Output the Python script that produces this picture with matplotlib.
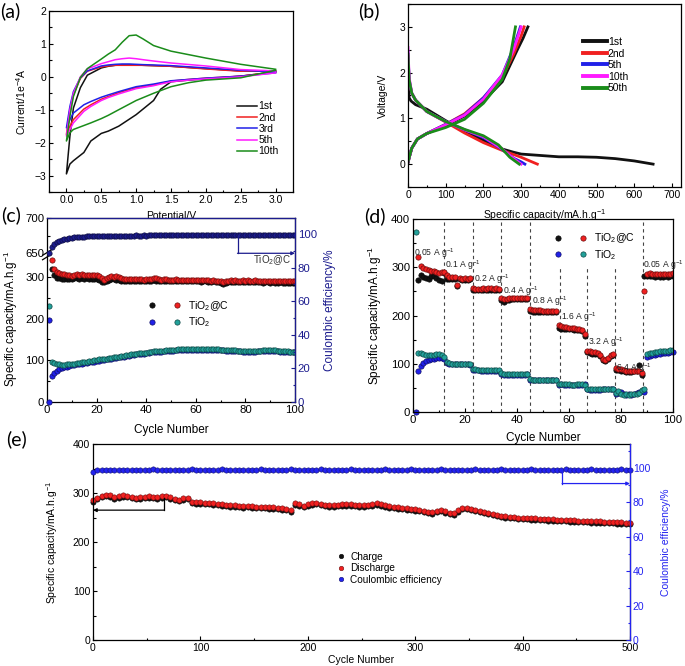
import numpy as np
import matplotlib
matplotlib.use('Agg')
import matplotlib.pyplot as plt
from matplotlib.lines import Line2D
from matplotlib.legend_handler import HandlerTuple
from matplotlib.ticker import MultipleLocator, FixedLocator

nan = np.nan

# ---------------- (a) CV data ----------------
cv_labels = ['1st', '2nd', '3rd', '5th', '10th']
pot_down = [3.0, 2.5, 2.0, 1.75, 1.5, 1.35, 1.25, 1.0, 0.75, 0.6, 0.5, 0.35, 0.25, 0.1, 0.05, 0.0]
pot_up = [0.0, 0.05, 0.1, 0.2, 0.3, 0.5, 0.6, 0.7, 0.8, 0.9, 1.0, 1.1, 1.25, 1.5, 2.0, 2.5, 3.0]
cur_down_1 = [0.15, 0.02, -0.06, -0.1, -0.15, -0.38, -0.72, -1.15, -1.5, -1.65, -1.72, -1.95, -2.3, -2.55, -2.65, -2.95]
cur_down_2 = [0.15, 0.02, -0.04, -0.08, -0.13, -0.2, -0.25, -0.33, -0.48, -0.6, -0.68, -0.85, -0.98, -1.3, -1.5, -1.75]
cur_down_3 = [0.12, 0.02, -0.04, -0.08, -0.12, -0.18, -0.22, -0.3, -0.45, -0.55, -0.62, -0.75, -0.85, -1.1, -1.3, -1.55]
cur_down_5 = [0.12, 0.0, -0.06, -0.1, -0.15, -0.22, -0.27, -0.36, -0.52, -0.63, -0.72, -0.9, -1.05, -1.4, -1.6, -1.8]
cur_down_10 = [0.2, -0.03, -0.1, -0.18, -0.3, -0.42, -0.5, -0.72, -1.0, -1.17, -1.27, -1.4, -1.48, -1.6, -1.7, -1.95]
cur_up_1 = [-2.95, -1.8, -0.95, -0.33, 0.05, 0.27, 0.32, 0.35, 0.36, 0.36, 0.36, 0.35, 0.34, 0.32, 0.25, 0.18, 0.18]
cur_up_2 = [-1.75, -1.0, -0.55, -0.05, 0.17, 0.3, 0.33, 0.35, 0.35, 0.35, 0.35, 0.35, 0.34, 0.32, 0.24, 0.17, 0.18]
cur_up_3 = [-1.55, -0.9, -0.45, -0.03, 0.18, 0.33, 0.36, 0.38, 0.39, 0.39, 0.38, 0.37, 0.36, 0.34, 0.27, 0.2, 0.15]
cur_up_5 = [-1.8, -1.0, -0.5, 0.0, 0.24, 0.4, 0.46, 0.52, 0.55, 0.57, 0.55, 0.52, 0.48, 0.42, 0.33, 0.22, 0.18]
cur_up_10 = [-1.95, -1.2, -0.6, -0.02, 0.25, 0.54, 0.69, 0.82, 1.05, 1.25, 1.27, 1.15, 0.95, 0.78, 0.57, 0.38, 0.23]

# ---------------- (b) charge/discharge ----------------
gcd_labels = ['1st', '2nd', '5th', '10th', '50th']
dis_cap_1 = [0, 1, 3, 8, 20, 50, 100, 150, 200, 250, 280, 300, 350, 400, 450, 500, 550, 600, 650]
dis_v_1 = [2.0, 1.7, 1.45, 1.38, 1.3, 1.2, 0.95, 0.72, 0.52, 0.33, 0.26, 0.22, 0.19, 0.16, 0.16, 0.15, 0.12, 0.07, 0.0]
chg_cap_1 = [0, 5, 10, 25, 50, 100, 150, 200, 250, 270, 290, 305, 318]
chg_v_1 = [0.02, 0.2, 0.35, 0.55, 0.67, 0.85, 1.05, 1.38, 1.8, 2.15, 2.5, 2.75, 3.0]
dis_cap_2 = [0, 3, 10, 20, 50, 100, 150, 200, 250, 300, 320, 343]
dis_v_2 = [2.35, 1.8, 1.55, 1.4, 1.15, 0.92, 0.68, 0.47, 0.3, 0.15, 0.08, 0.0]
chg_cap_2 = [0, 10, 25, 50, 100, 150, 200, 250, 280, 300, 308]
chg_v_2 = [0.05, 0.35, 0.55, 0.67, 0.87, 1.1, 1.45, 1.9, 2.4, 2.8, 3.0]
dis_cap_5 = [0, 3, 10, 20, 50, 100, 150, 200, 250, 280, 300, 310]
dis_v_5 = [2.45, 1.85, 1.55, 1.4, 1.15, 0.93, 0.75, 0.58, 0.32, 0.13, 0.05, 0.0]
chg_cap_5 = [0, 10, 25, 50, 100, 150, 200, 250, 280, 298]
chg_v_5 = [0.05, 0.35, 0.55, 0.67, 0.87, 1.08, 1.45, 1.95, 2.55, 3.0]
dis_cap_10 = [0, 3, 10, 20, 50, 100, 150, 200, 250, 280, 300]
dis_v_10 = [2.55, 1.9, 1.55, 1.4, 1.15, 0.93, 0.75, 0.6, 0.33, 0.12, 0.0]
chg_cap_10 = [0, 10, 25, 50, 100, 150, 200, 250, 280, 300]
chg_v_10 = [0.05, 0.35, 0.55, 0.67, 0.86, 1.07, 1.42, 1.95, 2.5, 3.0]
dis_cap_50 = [0, 3, 10, 20, 50, 100, 150, 200, 240, 270, 295]
dis_v_50 = [2.4, 1.85, 1.55, 1.4, 1.15, 0.93, 0.76, 0.62, 0.42, 0.15, 0.0]
chg_cap_50 = [0, 10, 25, 50, 100, 150, 200, 250, 270, 285]
chg_v_50 = [0.05, 0.35, 0.55, 0.67, 0.8, 0.98, 1.33, 1.85, 2.3, 3.0]

# ---------------- (c) cycling 100 ----------------
c_cycles = list(range(1, 101))
c_tio2c_charge = [
    nan, 318, 305, 298, 296, 295, 295, 294, 294, 294,
    296, 296, 295, 296, 295, 296, 295, 294, 295, 294,
    293, 288, 287, 290, 293, 294, 294, 293, 292, 291,
    291, 290, 291, 290, 290, 291, 290, 290, 289, 290,
    290, 291, 292, 290, 290, 289, 290, 290, 289, 290,
    289, 290, 289, 289, 290, 289, 289, 290, 289, 289,
    289, 288, 289, 289, 288, 288, 289, 288, 287, 286,
    284, 286, 287, 288, 287, 288, 288, 287, 288, 287,
    288, 287, 287, 288, 287, 287, 286, 287, 287, 286,
    287, 286, 286, 287, 286, 286, 285, 286, 285, 285]
c_tio2c_discharge = [
    nan, 340, 318, 312, 309, 307, 306, 305, 304, 303,
    305, 306, 305, 306, 305, 304, 305, 304, 305, 304,
    303, 296, 293, 296, 300, 301, 300, 301, 299, 296,
    295, 294, 295, 294, 294, 295, 294, 294, 293, 294,
    294, 295, 297, 296, 294, 293, 294, 294, 293, 293,
    293, 294, 293, 292, 293, 293, 292, 293, 292, 292,
    292, 292, 293, 292, 292, 291, 292, 291, 291, 290,
    288, 290, 291, 292, 291, 292, 291, 291, 292, 291,
    292, 291, 291, 292, 291, 291, 290, 291, 291, 290,
    291, 290, 290, 291, 290, 290, 289, 290, 289, 289]
c_tio2_charge = [
    197, 63, 70, 75, 78, 81, 83, 85, 87, 88,
    89, 90, 91, 92, 93, 94, 95, 96, 97, 98,
    99, 100, 101, 102, 103, 104, 105, 106, 107, 108,
    109, 110, 111, 112, 113, 114, 115, 116, 116, 117,
    118, 119, 120, 120, 121, 121, 122, 122, 123, 123,
    123, 124, 124, 124, 124, 125, 125, 125, 125, 125,
    125, 125, 125, 125, 125, 125, 125, 125, 124, 124,
    124, 123, 123, 123, 122, 122, 122, 122, 121, 121,
    121, 121, 121, 121, 122, 122, 122, 122, 123, 123,
    123, 122, 122, 121, 121, 120, 120, 120, 119, 119]
c_tio2_discharge = [
    229, 97, 93, 91, 90, 89, 89, 90, 90, 91,
    92, 93, 94, 95, 96, 97, 98, 99, 100, 101,
    102, 102, 103, 104, 105, 106, 107, 108, 109, 110,
    111, 112, 113, 114, 115, 116, 117, 117, 118, 118,
    119, 121, 122, 122, 123, 123, 123, 124, 124, 125,
    125, 125, 126, 126, 126, 126, 126, 126, 126, 126,
    126, 126, 126, 126, 126, 126, 126, 127, 126, 125,
    125, 125, 125, 124, 124, 124, 123, 123, 123, 123,
    123, 122, 122, 123, 123, 123, 124, 124, 124, 124,
    124, 124, 123, 123, 123, 122, 122, 121, 121, 120]
c_tio2c_ce = [
    88.5, 92.0, 94.0, 95.2, 96.0, 96.6, 97.0, 97.3, 97.6, 97.8,
    98.0, 98.1, 98.2, 98.3, 98.4, 98.5, 98.5, 98.6, 98.6, 98.7,
    98.7, 98.8, 98.8, 98.7, 98.8, 98.9, 98.8, 98.9, 98.9, 99.0,
    98.9, 99.0, 99.0, 98.9, 99.0, 99.1, 99.0, 99.0, 99.1, 99.0,
    99.1, 99.2, 99.1, 99.3, 99.1, 99.1, 99.2, 99.1, 99.2, 99.2,
    99.1, 99.2, 99.2, 99.3, 99.2, 99.2, 99.3, 99.2, 99.2, 99.3,
    99.2, 99.3, 99.3, 99.2, 99.4, 99.3, 99.3, 99.4, 99.3, 99.3,
    99.4, 99.3, 99.4, 99.4, 99.3, 99.4, 99.4, 99.3, 99.4, 99.4,
    99.4, 99.5, 99.4, 99.4, 99.5, 99.4, 99.5, 99.5, 99.4, 99.5,
    99.5, 99.4, 99.5, 99.5, 99.5, 99.6, 99.5, 99.5, 99.6, 99.6]
c_tio2_ce_cycles = [0.7]
c_tio2_ce = [0.0]
# broken left axis: shown labels and their positions on the compressed scale
c_left_ticks = [0, 100, 200, 300, 357, 441]
c_left_labels = ['0', '100', '200', '300', '650', '700']

# ---------------- (d) rate ----------------
d_cycles = list(range(1, 101))
d_tio2c_discharge = [
    nan, 321, 303, 298, 296, 294, 293, 292, 290, 289,
    290, 291, 283, 280, 279, 279, 263, 278, 276, 277,
    276, 277, 257, 255, 255, 255, 256, 255, 256, 256,
    255, 256, 255, 236, 235, 235, 236, 236, 236, 237,
    237, 236, 236, 236, 214, 212, 211, 211, 211, 210,
    210, 210, 210, 209, 209, 181, 178, 177, 176, 175,
    175, 174, 173, 172, 170, 162, 127, 126, 125, 124,
    123, 118, 110, 107, 112, 118, 121, 91, 90, 89,
    87, 86, 85, 85, 86, 85, 86, 80, 250, 286,
    288, 287, 286, 286, 285, 286, 285, 286, 287, 288]
d_tio2c_charge = [
    nan, 274, 284, 280, 278, 276, 281, 282, 278, 274,
    271, 288, 276, 275, 276, 276, 262, 275, 274, 274,
    273, 275, 252, 252, 253, 252, 252, 253, 252, 253,
    253, 253, 252, 233, 229, 233, 233, 234, 234, 234,
    234, 234, 234, 234, 210, 207, 208, 208, 208, 208,
    208, 208, 208, 207, 207, 175, 172, 172, 171, 171,
    171, 170, 170, 169, 168, 158, 125, 122, 121, 121,
    120, 116, 108, 106, 110, 116, 119, 88, 87, 86,
    84, 83, 83, 83, 84, 84, 97, 77, 282, 281,
    282, 281, 280, 281, 280, 280, 281, 280, 281, 282]
d_tio2_charge = [
    0, 85, 95, 101, 105, 107, 109, 110, 111, 112,
    111, 110, 101, 100, 99, 99, 99, 99, 99, 99,
    99, 98, 88, 87, 87, 86, 86, 86, 86, 86,
    85, 85, 85, 78, 77, 77, 77, 77, 77, 77,
    77, 77, 77, 78, 67, 66, 66, 66, 66, 66,
    66, 66, 66, 66, 67, 56, 57, 56, 56, 56,
    55, 55, 56, 56, 56, 57, 47, 46, 46, 46,
    46, 46, 47, 47, 47, 47, 47, 37, 40, 42,
    38, 35, 37, 36, 38, 40, 42, 43, 42, 113,
    116, 118, 119, 120, 121, 122, 123, 123, 124, 125]
d_tio2_discharge = [
    374, 123, 122, 121, 119, 118, 118, 119, 120, 120,
    118, 113, 103, 101, 100, 100, 100, 100, 100, 100,
    100, 99, 90, 89, 88, 88, 88, 87, 87, 87,
    87, 87, 87, 80, 78, 78, 78, 78, 78, 78,
    78, 78, 78, 78, 68, 67, 67, 67, 67, 67,
    67, 67, 67, 67, 67, 58, 57, 57, 57, 57,
    56, 56, 57, 57, 57, 56, 48, 47, 47, 47,
    47, 47, 47, 48, 48, 47, 47, 40, 43, 38,
    36, 38, 36, 37, 38, 37, 40, 45, 47, 120,
    122, 123, 124, 125, 126, 126, 127, 127, 128, 128]
rate_bounds = [12, 23, 34, 45, 56.5, 67, 77.5, 88.5]
rate_bound_tops = [400, 400, 400, 400, 298, 298, 298, 400]
rate_texts = ['0.05 A g$^{-1}$', '0.1 A g$^{-1}$', '0.2 A g$^{-1}$', '0.4 A g$^{-1}$',
              '0.8 A g$^{-1}$', '1.6 A g$^{-1}$', '3.2 A g$^{-1}$', '6.4 A g$^{-1}$', '0.05 A g$^{-1}$']
rate_text_x = [0.3, 12.5, 23.6, 34.5, 45.8, 57, 67.3, 78, 88.4]
rate_text_y = [330, 305, 276, 251, 229, 197, 145, 90, 305]

# ---------------- (e) long cycling ----------------
e_cycles = list(range(0, 501, 4))
e_discharge = [
    286, 290, 294, 296, 295, 291, 293, 295, 294, 292,
    290, 291, 292, 293, 292, 291, 293, 294, 291, 288,
    286, 289, 290, 282, 281, 281, 280, 280, 279, 278,
    277, 276, 275, 275, 274, 273, 274, 273, 272, 272,
    272, 271, 271, 270, 269, 268, 265, 279, 277, 274,
    277, 279, 280, 278, 276, 275, 275, 276, 277, 277,
    277, 276, 275, 275, 276, 277, 279, 277, 275, 273,
    272, 271, 270, 269, 268, 267, 266, 264, 262, 261,
    264, 266, 263, 260, 259, 265, 270, 270, 268, 266,
    264, 262, 260, 258, 256, 254, 253, 252, 251, 250,
    249, 249, 248, 248, 247, 247, 246, 246, 245, 245,
    245, 244, 244, 243, 243, 243, 242, 242, 242, 241,
    241, 241, 240, 240, 239, 239]
e_charge = [
    281, 287, 291, 293, 292, 288, 290, 292, 291, 289,
    287, 288, 289, 290, 289, 288, 290, 291, 288, 285,
    283, 286, 287, 279, 278, 278, 277, 277, 276, 275,
    274, 273, 272, 272, 271, 270, 271, 270, 269, 269,
    269, 268, 268, 267, 266, 265, 262, 276, 274, 271,
    274, 276, 277, 275, 273, 272, 272, 273, 274, 274,
    274, 273, 272, 272, 273, 274, 276, 274, 272, 270,
    269, 268, 267, 266, 265, 264, 263, 261, 259, 258,
    261, 263, 260, 257, 256, 262, 267, 267, 265, 263,
    261, 259, 257, 255, 253, 251, 250, 249, 248, 247,
    246, 246, 245, 245, 244, 244, 243, 243, 242, 242,
    242, 241, 241, 240, 240, 240, 239, 239, 239, 238,
    238, 238, 237, 237, 236, 236]
e_ce = [
    97.8, 98.6, 98.9, 99.0, 98.9, 99.1, 99.0, 98.8, 99.0, 99.1,
    99.0, 98.9, 99.1, 99.0, 99.2, 99.0, 98.9, 99.1, 99.0, 99.0,
    99.1, 98.9, 99.0, 99.2, 99.0, 99.1, 98.9, 99.0, 99.1, 99.0,
    99.2, 99.0, 98.9, 99.1, 99.0, 99.1, 99.0, 98.9, 99.1, 99.2,
    99.0, 99.1, 99.0, 98.9, 99.1, 99.0, 99.2, 99.1, 99.0, 98.9,
    99.1, 99.0, 99.1, 99.2, 99.0, 99.1, 98.9, 99.0, 99.1, 99.0,
    99.2, 99.1, 99.0, 98.9, 99.1, 99.0, 99.1, 99.0, 99.2, 99.0,
    98.9, 99.1, 99.0, 99.1, 99.2, 99.0, 99.1, 98.9, 99.0, 99.1,
    99.0, 99.2, 99.1, 99.0, 98.9, 99.1, 99.0, 99.1, 99.0, 99.2,
    99.0, 98.9, 99.1, 99.0, 99.1, 99.2, 99.0, 99.1, 98.9, 99.0,
    99.1, 99.0, 99.2, 99.1, 99.0, 98.9, 99.1, 99.0, 99.1, 99.0,
    99.2, 99.0, 98.9, 99.1, 99.0, 99.1, 99.2, 99.0, 99.1, 98.9,
    99.0, 99.1, 99.0, 99.2, 99.1, 99.0]

# ================= drawing =================
plt.rcParams['font.family'] = ['Liberation Sans', 'DejaVu Sans']
plt.rcParams['mathtext.fontset'] = 'custom'
plt.rcParams['mathtext.rm'] = 'Liberation Sans'
plt.rcParams['mathtext.it'] = 'Liberation Sans:italic'
plt.rcParams['mathtext.default'] = 'regular'
FS = 7.5
FS2 = 8.2
PANEL_FONT = dict(family=['Lato', 'DejaVu Sans'], fontsize=14)

BLACK = '#111111'
RED = '#f02020'
BLUE = '#2020e8'
TEAL = '#22a19a'
NAVY = '#1c1c8e'
MAG = '#ff1aff'
GREEN = '#1a8c1a'
EBLUE = '#2323f0'

W, H = 685, 666
fig = plt.figure(figsize=(W / 100, H / 100), dpi=100)


def add_ax(l, t, r, b):
    return fig.add_axes([l / W, 1 - b / H, (r - l) / W, (b - t) / H])


def style(ax, fs=FS):
    ax.tick_params(which='both', direction='in', labelsize=fs, width=0.8, pad=2,
                   top=False, right=False)
    ax.tick_params(which='major', length=3)
    ax.tick_params(which='minor', length=1.8)
    for s in ax.spines.values():
        s.set_linewidth(0.9)


def dark(c):
    import matplotlib.colors as mc
    r, g, b = mc.to_rgb(c)
    return (r * 0.45, g * 0.45, b * 0.45)


# ---- (a) ----
ax = add_ax(49, 11, 293, 192)
style(ax)
cv_colors = [BLACK, RED, BLUE, MAG, GREEN]
cv_down = [cur_down_1, cur_down_2, cur_down_3, cur_down_5, cur_down_10]
cv_up = [cur_up_1, cur_up_2, cur_up_3, cur_up_5, cur_up_10]
for lab, col, dn, up in zip(cv_labels, cv_colors, cv_down, cv_up):
    ax.plot(pot_down + pot_up, dn + up, color=col, lw=1.1, label=lab)
ax.set_xlim(-0.25, 3.25)
ax.set_ylim(-3.5, 2)
ax.xaxis.set_major_locator(MultipleLocator(0.5))
ax.xaxis.set_minor_locator(MultipleLocator(0.25))
ax.yaxis.set_major_locator(MultipleLocator(1))
ax.yaxis.set_minor_locator(MultipleLocator(0.5))
ax.xaxis.set_major_formatter(matplotlib.ticker.FormatStrFormatter('%.1f'))
ax.set_xlabel('Potential/V', fontsize=FS)
ax.set_ylabel('Current/1e$^{-4}$A', fontsize=FS)
ax.xaxis.set_label_coords(0.5, -0.105)
ax.yaxis.set_label_coords(-0.088, 0.5)
ax.legend(loc='upper left', bbox_to_anchor=(0.77, 0.50), frameon=False, fontsize=FS,
          handlelength=1.9, handletextpad=0.15, labelspacing=0.12, borderpad=0,
          borderaxespad=0)
fig.text(0.0 / W, 1 - 2 / H, '(a)', va='top', ha='left', **PANEL_FONT)

# ---- (b) ----
ax = add_ax(408, 4, 681, 187)
style(ax)
gcd_colors = [BLACK, RED, BLUE, MAG, GREEN]
gcd_dis = [(dis_cap_1, dis_v_1), (dis_cap_2, dis_v_2), (dis_cap_5, dis_v_5),
           (dis_cap_10, dis_v_10), (dis_cap_50, dis_v_50)]
gcd_chg = [(chg_cap_1, chg_v_1), (chg_cap_2, chg_v_2), (chg_cap_5, chg_v_5),
           (chg_cap_10, chg_v_10), (chg_cap_50, chg_v_50)]
for lab, col, (dc, dv), (cc, cv) in zip(gcd_labels, gcd_colors, gcd_dis, gcd_chg):
    ax.plot(dc, dv, color=col, lw=2.0, label=lab)
    ax.plot(cc, cv, color=col, lw=2.0)
ax.set_xlim(0, 724)
ax.set_ylim(-0.5, 3.5)
ax.xaxis.set_major_locator(MultipleLocator(100))
ax.xaxis.set_minor_locator(MultipleLocator(50))
ax.yaxis.set_major_locator(MultipleLocator(1))
ax.yaxis.set_minor_locator(MultipleLocator(0.5))
ax.set_xlabel('Specific capacity/mA.h.g$^{-1}$', fontsize=FS)
ax.set_ylabel('Voltage/V', fontsize=FS)
ax.xaxis.set_label_coords(0.5, -0.11)
ax.yaxis.set_label_coords(-0.075, 0.5)
leg = ax.legend(loc='upper left', bbox_to_anchor=(0.64, 0.82), frameon=False, fontsize=FS,
                handlelength=2.3, handletextpad=0.1, labelspacing=0.15, borderpad=0,
                borderaxespad=0)
for ln in leg.get_lines():
    ln.set_linewidth(2.8)
fig.text(358 / W, 1 - 2 / H, '(b)', va='top', ha='left', **PANEL_FONT)

MS = 3.8
mk = dict(ls='', marker='o', ms=MS, mew=0.5)

# ---- (c) ----
ax = add_ax(47, 218, 295, 402)
style(ax, FS2)
ax.plot(c_cycles, c_tio2c_charge, color=BLACK, mec=dark(BLACK), **mk)
ax.plot(c_cycles, c_tio2c_discharge, color=RED, mec=dark(RED), **mk)
ax.plot(c_cycles, c_tio2_charge, color=BLUE, mec=dark(BLUE), **mk)
ax.plot(c_cycles, c_tio2_discharge, color=TEAL, mec=dark(TEAL), **mk)
ax.set_xlim(0, 100)
ax.set_ylim(0, 441)
ax.xaxis.set_major_locator(MultipleLocator(20))
ax.xaxis.set_minor_locator(MultipleLocator(10))
ax.yaxis.set_major_locator(FixedLocator(c_left_ticks))
ax.yaxis.set_major_formatter(matplotlib.ticker.FixedFormatter(c_left_labels))
ax.yaxis.set_minor_locator(FixedLocator([50, 150, 250, 399]))
ax.set_xlabel('Cycle Number', fontsize=FS2 + 0.3)
ax.set_ylabel('Specific capacity/mA.h.g$^{-1}$', fontsize=FS2 + 0.1)
ax.xaxis.set_label_coords(0.5, -0.12)
ax.yaxis.set_label_coords(-0.108, 0.45)
# axis-break mark
for dy in (-0.012, 0.012):
    ax.plot([-0.018, 0.018], [0.80 + dy - 0.015, 0.80 + dy + 0.015], transform=ax.transAxes,
            color='black', lw=0.9, clip_on=False)
hk = Line2D([], [], color=BLACK, mec=dark(BLACK), **mk)
hr = Line2D([], [], color=RED, mec=dark(RED), **mk)
hb = Line2D([], [], color=BLUE, mec=dark(BLUE), **mk)
ht = Line2D([], [], color=TEAL, mec=dark(TEAL), **mk)
ax.legend([(hk, hr), (hb, ht)], ['TiO$_2$@C', 'TiO$_2$'],
          handler_map={tuple: HandlerTuple(ndivide=None, pad=1.2)},
          loc='upper left', bbox_to_anchor=(0.40, 0.56), frameon=False, fontsize=FS,
          handlelength=3.6, handletextpad=0.4, labelspacing=0.25, borderpad=0, borderaxespad=0)
ax2 = ax.twinx()
ax2.plot(c_cycles, c_tio2c_ce, color=NAVY, mec=dark(NAVY), **mk)
ax2.plot(c_tio2_ce_cycles, c_tio2_ce, color=BLUE, mec=dark(BLUE), **mk, clip_on=False)
ax2.set_ylim(0, 109.5)
ax2.tick_params(which='both', direction='in', labelsize=FS2, width=0.8, pad=2,
                colors=NAVY, left=False, labelleft=False)
ax2.tick_params(which='major', length=3)
ax2.tick_params(which='minor', length=1.8)
ax2.yaxis.set_major_locator(MultipleLocator(20))
ax2.yaxis.set_minor_locator(MultipleLocator(10))
for side in ('left', 'bottom'):
    ax2.spines[side].set_visible(False)
for side in ('top', 'right'):
    ax2.spines[side].set_color(NAVY)
    ax2.spines[side].set_linewidth(0.9)
ax2.set_ylabel('Coulombic efficiency/%', fontsize=FS2 + 0.3, color=NAVY)
ax2.yaxis.set_label_coords(1.115, 0.5)
ax2.plot([77, 77], [99.2, 88.5], color=NAVY, lw=0.9)
ax2.annotate('', xy=(100, 88.5), xytext=(76.8, 88.5),
             arrowprops=dict(arrowstyle='-|>', color=NAVY, lw=0.9, mutation_scale=5,
                             shrinkA=0, shrinkB=0))
ax2.text(91, 84.5, 'TiO$_2$@C', fontsize=FS - 0.5, ha='center', va='center', color='#333333')
fig.text(1 / W, 1 - 206 / H, '(c)', va='top', ha='left', **PANEL_FONT)

# ---- (d) ----
ax = add_ax(413, 219, 673, 412)
style(ax, FS2)
for xb, top in zip(rate_bounds, rate_bound_tops):
    ax.plot([xb, xb], [0, top], ls=(0, (3, 3)), color='#444444', lw=0.8)
ax.plot(d_cycles, d_tio2c_charge, color=BLACK, mec=dark(BLACK), **mk)
ax.plot(d_cycles, d_tio2c_discharge, color=RED, mec=dark(RED), **mk)
ax.plot(d_cycles, d_tio2_charge, color=BLUE, mec=dark(BLUE), **mk, clip_on=False)
ax.plot(d_cycles, d_tio2_discharge, color=TEAL, mec=dark(TEAL), **mk)
for t, x, y in zip(rate_texts, rate_text_x, rate_text_y):
    ax.text(x, y, t, fontsize=6.2, ha='left', va='center', color='#222222')
ax.set_xlim(0, 100)
ax.set_ylim(0, 400)
ax.xaxis.set_major_locator(MultipleLocator(20))
ax.xaxis.set_minor_locator(MultipleLocator(10))
ax.yaxis.set_major_locator(MultipleLocator(100))
ax.yaxis.set_minor_locator(MultipleLocator(50))
ax.set_xlabel('Cycle Number', fontsize=FS2 + 0.3)
ax.set_ylabel('Specific capacity/mA.h.g$^{-1}$', fontsize=FS2 + 0.3)
ax.xaxis.set_label_coords(0.5, -0.105)
ax.yaxis.set_label_coords(-0.11, 0.5)
ax.legend([(hk, hr), (hb, ht)], ['TiO$_2$@C', 'TiO$_2$'],
          handler_map={tuple: HandlerTuple(ndivide=None, pad=1.2)},
          loc='upper left', bbox_to_anchor=(0.535, 0.935), frameon=False, fontsize=FS,
          handlelength=3.6, handletextpad=0.4, labelspacing=0.25, borderpad=0, borderaxespad=0)
fig.text(364 / W, 1 - 207 / H, '(d)', va='top', ha='left', **PANEL_FONT)

# ---- (e) ----
mke = dict(ls='', marker='o', ms=3.8, mew=0.4)
ax = add_ax(93, 444, 630, 640)
style(ax)
ax.plot(e_cycles, e_charge, color=BLACK, mec=dark(BLACK), **mke, label='Charge', clip_on=False)
ax.plot(e_cycles, e_discharge, color=RED, mec=dark(RED), **mke, label='Discharge', clip_on=False)
ax.set_xlim(0, 500)
ax.set_ylim(0, 400)
ax.xaxis.set_major_locator(MultipleLocator(100))
ax.xaxis.set_minor_locator(MultipleLocator(50))
ax.yaxis.set_major_locator(MultipleLocator(100))
ax.yaxis.set_minor_locator(MultipleLocator(50))
ax.set_xlabel('Cycle Number', fontsize=FS)
ax.set_ylabel('Specific capacity/mA.h.g$^{-1}$', fontsize=FS)
ax.xaxis.set_label_coords(0.5, -0.078)
ax.yaxis.set_label_coords(-0.062, 0.5)
ax.plot([66, 66], [290, 265], color='black', lw=0.9)
ax.annotate('', xy=(0, 265), xytext=(66.2, 265),
            arrowprops=dict(arrowstyle='-|>', color='black', lw=0.9, mutation_scale=5,
                            shrinkA=0, shrinkB=0))
ax2 = ax.twinx()
ax2.plot(e_cycles, e_ce, color=EBLUE, mec=dark(EBLUE), **mke, label='Coulombic efficiency',
         clip_on=False)
ax2.set_ylim(0, 114)
ax2.tick_params(which='both', direction='in', labelsize=FS, width=0.8, pad=2,
                colors=EBLUE, left=False, labelleft=False)
ax2.tick_params(which='major', length=3)
ax2.tick_params(which='minor', length=1.8)
ax2.yaxis.set_major_locator(MultipleLocator(20))
ax2.yaxis.set_minor_locator(MultipleLocator(10))
for side in ('left', 'bottom', 'top'):
    ax2.spines[side].set_visible(False)
ax2.spines['right'].set_color(EBLUE)
ax2.spines['right'].set_linewidth(0.9)
ax2.set_ylabel('Coulombic efficiency/%', fontsize=FS, color=EBLUE)
ax2.yaxis.set_label_coords(1.058, 0.5)
ax2.plot([437, 437], [99, 91], color=EBLUE, lw=0.9)
ax2.annotate('', xy=(500, 91), xytext=(436.8, 91),
             arrowprops=dict(arrowstyle='-|>', color=EBLUE, lw=0.9, mutation_scale=5,
                             shrinkA=0, shrinkB=0))
h1, l1 = ax.get_legend_handles_labels()
h2, l2 = ax2.get_legend_handles_labels()
ax2.legend(h1 + h2, l1 + l2, loc='upper left', bbox_to_anchor=(0.455, 0.45), frameon=False,
           fontsize=FS - 0.3, handlelength=0.8, handletextpad=0.5, labelspacing=0.15,
           borderpad=0, borderaxespad=0, markerscale=0.85)
fig.text(6 / W, 1 - 430 / H, '(e)', va='top', ha='left', **PANEL_FONT)

fig.savefig('out.png', dpi=100)
